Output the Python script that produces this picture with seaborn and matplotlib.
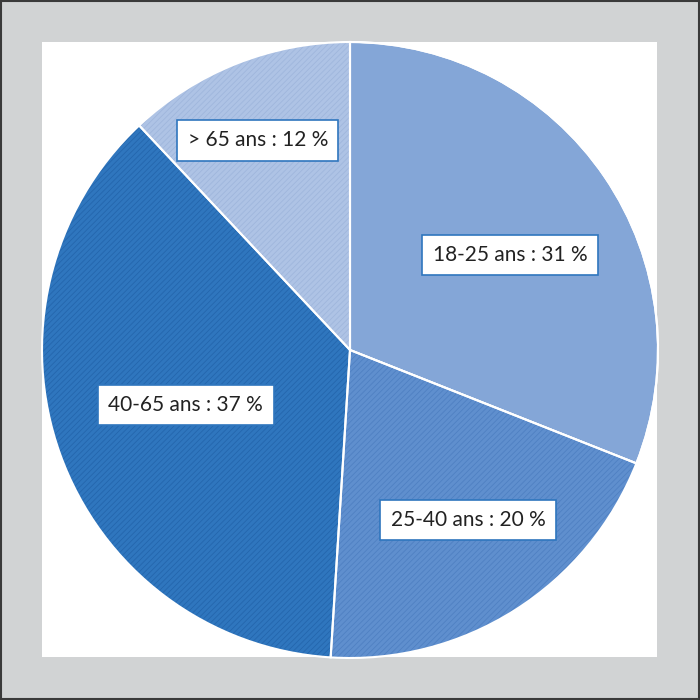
import numpy as np
import matplotlib
matplotlib.use("Agg")
import matplotlib.pyplot as plt
import seaborn as sns
from matplotlib.patches import Rectangle

# Data
age_groups = ["18-25 ans", "25-40 ans", "40-65 ans", "> 65 ans"]
shares = [31, 20, 37, 12]
slice_colors = ["#84a6d7", "#5f8fce", "#2f76be", "#aec3e5"]
hatch_colors = ["#84a6d7", "#4f80c2", "#2466ad", "#9fb6dc"]

# label placement (polar, in pie radius units / degrees)
label_radius = [0.604, 0.672, 0.562, 0.744]
label_angle = [30.7, -55.2, 198.5, 113.7]

sns.set_theme(style="white")
plt.rcParams["font.family"] = ["Lato", "DejaVu Sans"]
plt.rcParams["hatch.linewidth"] = 0.6

fig = plt.figure(figsize=(7, 7), dpi=100)
fig.patch.set_facecolor("#d1d3d4")

# outer thin frame and white panel
fig.patches.append(Rectangle((0.001, 0.001), 0.998, 0.998, transform=fig.transFigure,
                             fill=False, edgecolor="#3a3a3a", linewidth=1.5, zorder=-2))
fig.patches.append(Rectangle((42 / 700, 43 / 700), 615 / 700, 615 / 700, transform=fig.transFigure,
                             facecolor="white", edgecolor="none", zorder=-1))

ax = fig.add_axes([42 / 700, 42 / 700, 616 / 700, 616 / 700])
ax.set_facecolor("none")

wedges, _ = ax.pie(shares, colors=slice_colors, startangle=90, counterclock=False,
                   radius=1.0, wedgeprops=dict(edgecolor="white", linewidth=1.5))
for i, (w, hc) in enumerate(zip(wedges, hatch_colors)):
    if i > 0:
        w.set_hatch("//////")
        w.set_edgecolor(hc)
        w.set_linewidth(0)
# white separators on top
ax.pie(shares, colors=["none"] * 4, startangle=90, counterclock=False, radius=1.0,
       wedgeprops=dict(edgecolor="white", linewidth=1.5, fill=False))

# labels
for name, s, r, a in zip(age_groups, shares, label_radius, label_angle):
    t = np.deg2rad(a)
    ax.text(r * np.cos(t), r * np.sin(t), f"{name} : {s} %",
            ha="center", va="center", fontsize=15, color="#222222", zorder=5,
            bbox=dict(boxstyle="square,pad=0.5", facecolor="white",
                      edgecolor="#2f76be", linewidth=1.2))

ax.set_xlim(-1, 1)
ax.set_ylim(-1, 1)
ax.set_aspect("equal")
ax.axis("off")

fig.savefig("out.png", dpi=100, facecolor=fig.get_facecolor())
